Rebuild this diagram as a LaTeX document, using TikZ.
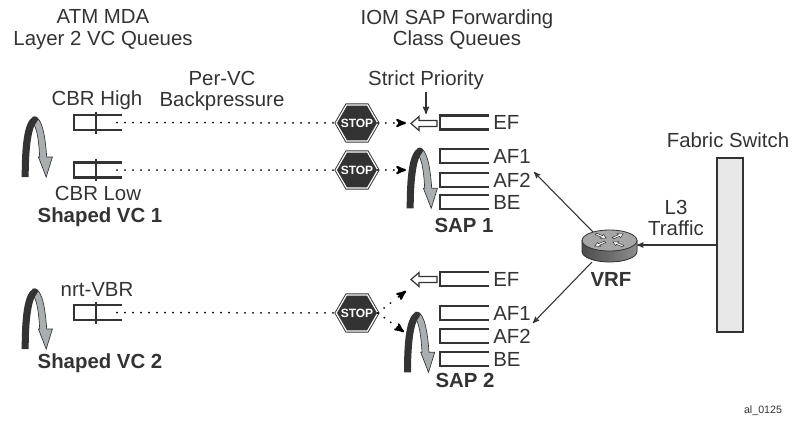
\documentclass[tikz,border=0pt]{standalone}
\usepackage{fontspec}
\setmainfont{Liberation Sans}
\usetikzlibrary{arrows}
\usetikzlibrary{calc}
\usetikzlibrary{shapes.geometric}
\definecolor{inkgray}{HTML}{333333}
\definecolor{swirlgray}{HTML}{A9AEB1}
\tikzset{
 lbl/.style={inner sep=0, text=inkgray, font=\fontsize{15.3}{16.2}\selectfont, align=center},
 boldlbl/.style={lbl, font=\fontsize{15.3}{16.2}\selectfont\bfseries},
 vcq/.style={inkgray, line width=1.6},
 feed/.style={black, line width=1.5, line cap=round, dash pattern=on 0pt off 6pt},
 feedtip/.style={black, line width=1.5, -stealth'},
 stopsign/.style={regular polygon, regular polygon sides=6, inner sep=-2.6pt, outer sep=0, fill=inkgray, draw=inkgray, line width=.7, double=white, double distance=.9, text=white, font=\fontsize{9}{9}\selectfont\bfseries},
 wire/.style={inkgray, line width=.8, -stealth'},
}
\begin{document}
\begin{tikzpicture}[x=.75pt,y=-.75pt]
\useasboundingbox (0,0) rectangle (795,426);
\node[lbl] (atm) at (103,29.5) {ATM MDA\\Layer 2 VC Queues};
\node[lbl] (iom) at (457,29.5) {IOM SAP Forwarding\\Class Queues};
\node[lbl] (pervc) at (222,91) {Per-VC\\Backpressure};
\node[lbl] (strict) at (426,80) {Strict Priority};
\node[lbl] (high) at (97,100) {CBR High};
\node[lbl] (low) at (98,193) {CBR Low};
\node[boldlbl] (vc1) at (100,217) {Shaped VC 1};
\node[lbl] (nrt) at (97,290) {nrt-VBR};
\node[boldlbl] (vc2) at (100,363) {Shaped VC 2};
\node[boldlbl] (sap1) at (464,225) {SAP 1};
\node[boldlbl] (sap2) at (465,380) {SAP 2};
\node[lbl] (fabric) at (728,140) {Fabric Switch};
\node[lbl] (l3) at (676,218) {L3\\Traffic};
\node[boldlbl] (vrf) at (611,279) {VRF};
\node[inner sep=0, font=\fontsize{8}{9}\selectfont\rmfamily, text=inkgray] (tag) at (763,411) {al\_0125};
\foreach \n/\y in {vca/122.5,vcb/170,vcc/312.5} {
 \draw[vcq] (122,\y-7.5)--++(-48,0)--++(0,15)--++(48,0);
 \draw[vcq] (96,\y-11)--++(0,22);
 \coordinate (\n) at (117,\y);
}
\foreach \n/\t/\y in {qa/EF/122.5,qb/AF1/156,qc/AF2/180,qd/BE/202,qe/EF/279,qf/AF1/313,qg/AF2/336,qh/BE/359} {
 \draw[vcq] (489,\y-7)--++(-49,0)--++(0,14)--++(49,0);
 \node[lbl, anchor=west] (\n) at (493,\y) {\t};
}
\foreach \x/\y in {21.7/177,21.7/349,406.7/208.3,404/372.3} {
 \begin{scope}[shift={(\x,\y)}]
 \fill[swirlgray, draw=inkgray, line width=.5] (11,-60) .. controls (18,-62) and (23,-50) .. (25,-20)--(30.7,-20)--(24.5,0)--(16.7,-20)--(18,-20) .. controls (17,-38) and (15,-50) .. (11,-54)--cycle;
 \fill[inkgray] (0,0) .. controls (0,-30) and (2,-58) .. (13,-60.5) .. controls (17,-60) and (17,-58) .. (15,-55) .. controls (10,-50) and (7,-30) .. (7,0)--cycle;
 \end{scope}
}
\node[stopsign] (stopa) at (357,123) {STOP};
\node[stopsign] (stopb) at (357,170) {STOP};
\node[stopsign] (stopc) at (357,313) {STOP};
\draw[feed] (vca)--(stopa);
\draw[feed] (vcb)--(stopb);
\draw[feed] (vcc)--(stopc);
\coordinate (ta) at (406,123);
\coordinate (tb) at (406,170);
\coordinate (tc) at (406,291);
\coordinate (td) at (404,332);
\foreach \s/\t in {stopa/ta,stopb/tb,stopc/tc,stopc/td} {
 \draw[feed] (\s.east)--($(\s.east)!.6!(\t)$);
 \draw[feedtip] ($(\s.east)!.72!(\t)$)--(\t);
}
\foreach \y in {123.5,279.5} {
 \draw[inkgray, fill=white, line width=.9] (437,\y-3)--(419,\y-3)--(419,\y-7)--(411,\y)--(419,\y+7)--(419,\y+3)--(437,\y+3)--cycle;
}
\coordinate (sp) at (426,92);
\coordinate (spt) at (426,114);
\draw[wire, line width=1] (sp)--(spt);
\node[rectangle, draw=inkgray, fill=black!9, line width=1.6, inner sep=0, minimum width=19.5, minimum height=130.5] (switch) at (730,245) {};
\coordinate (rin) at (637,245);
\fill[left color=black!70, right color=black!45, draw=inkgray, line width=.6] (582,240.5)--(582,251.5) arc[x radius=27.5, y radius=10.5, start angle=180, end angle=0]--(637,240.5)--cycle;
\node[ellipse, draw=inkgray, fill=black!35, line width=.6, inner sep=0, outer sep=0, minimum width=41.2, minimum height=15.8] (router) at (609.5,240.5) {};
\foreach \x/\y/\r in {601/236/-30,618/236/30,600/244/210,618/244/150} {
 \draw[inkgray, fill=white, line width=.4, shift={(\x,\y)}, yscale=.7, rotate=\r] (-6,-1.2)--(1,-1.2)--(1,-3.2)--(6,0)--(1,3.2)--(1,1.2)--(-6,1.2)--cycle;
}
\coordinate (ra) at (593,232);
\coordinate (rb) at (592,262);
\coordinate (af) at (534,172);
\coordinate (ag) at (533,323);
\draw[wire] (switch.west |- rin)--(rin);
\draw[wire] (ra)--(af);
\draw[wire] (rb)--(ag);
\end{tikzpicture}
\end{document}
